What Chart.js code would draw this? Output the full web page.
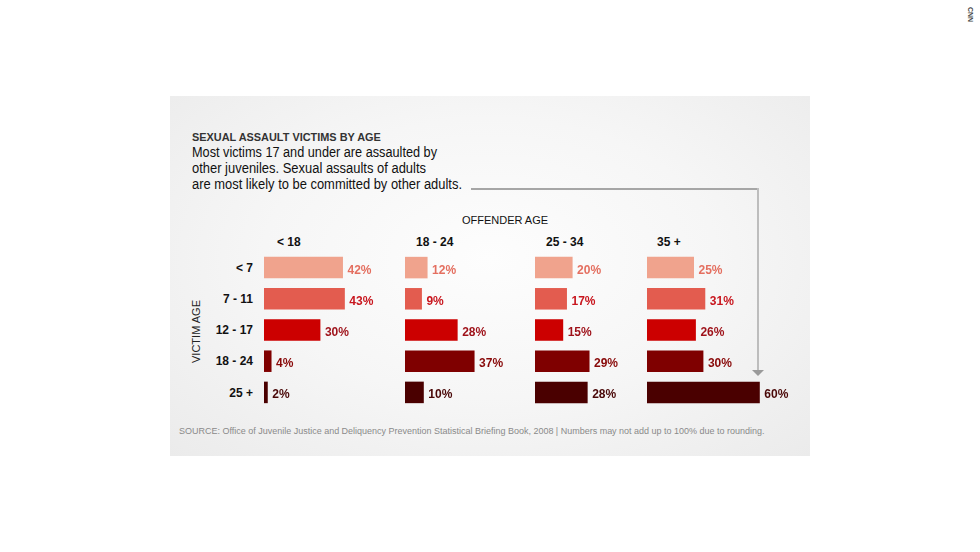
<!DOCTYPE html>
<html><head><meta charset="utf-8">
<script src="https://cdn.jsdelivr.net/npm/chart.js@4.4.1/dist/chart.umd.min.js"></script>
<style>
html,body{margin:0;padding:0;background:#fff;}
#stage{position:relative;width:980px;height:552px;overflow:hidden;background:#fff;font-family:"Liberation Sans",Arial,Helvetica,sans-serif;}
#panel{position:absolute;left:170px;top:96px;width:640px;height:360px;background:radial-gradient(ellipse at 50% 45%, #fdfdfd 0%, #f6f6f6 50%, #ebebeb 100%);}
.t{position:absolute;white-space:nowrap;line-height:1;transform-origin:0 0;}
.cv{position:absolute;}
</style></head>
<body><div id="stage"><div id="panel"></div>
<div style="position:absolute;left:471px;top:188px;width:288px;height:2px;background:#a6a6a6"></div>
<div style="position:absolute;left:757px;top:188px;width:2px;height:182px;background:#bdbdbd"></div>
<div style="position:absolute;left:752px;top:370px;width:0;height:0;border-left:6px solid transparent;border-right:6px solid transparent;border-top:6px solid #9a9a9a"></div>
</div>
<script>
// ---- data ----
const victimAges = ['< 7', '7 - 11', '12 - 17', '18 - 24', '25 +'];
const offenderAges = ['< 18', '18 - 24', '25 - 34', '35 +'];
const offenderUnder18 = [42, 43, 30, 4, 2];
const offender18to24 = [12, 9, 28, 37, 10];
const offender25to34 = [20, 17, 15, 29, 28];
const offender35plus = [25, 31, 26, 30, 60];
const seriesByOffender = [offenderUnder18, offender18to24, offender25to34, offender35plus];

// ---- styles / layout ----
const barColors = ['#f0a38d', '#e35c4f', '#cc0000', '#7f0000', '#4a0000'];
const labelColors = ['#e46f60', '#c8161e', '#9e1119', '#880808', '#4a0808'];
const FONT = '"Liberation Sans", Arial, Helvetica, sans-serif';
const colLeft = [264, 405, 535, 647];
const colWidth = [136, 125, 105, 150];
const headerLeft = [277, 416, 546, 657];
const pxPerPct = 1.88;
const chartTop = 252, chartHeight = 156;

const stage = document.getElementById('stage');

function addText(str, o) {
  const el = document.createElement('div');
  el.className = 't';
  el.textContent = str;
  let size = o.size;
  el.style.fontSize = size + 'px';
  el.style.fontWeight = o.bold ? 'bold' : 'normal';
  el.style.color = o.color;
  stage.appendChild(el);
  let nat = el.getBoundingClientRect().width;
  let sx = 1;
  if (o.width) {
    if (o.squeeze) {
      sx = o.width / nat;
      el.style.transform = 'scaleX(' + sx + ')';
    } else {
      size = size * o.width / nat;
      el.style.fontSize = size + 'px';
    }
    nat = o.width;
  }
  if (o.rotate) {
    el.style.left = (o.x - nat / 2) + 'px';
    el.style.top = (o.y - size / 2) + 'px';
    el.style.transformOrigin = '50% 50%';
    el.style.transform = 'rotate(' + o.rotate + 'deg)';
    return el;
  }
  let left = o.x;
  if (o.align === 'right') left = o.x - nat;
  else if (o.align === 'center') left = o.x - nat / 2;
  el.style.left = left + 'px';
  el.style.top = (o.y - 0.8465 * size) + 'px';
  return el;
}

const valueLabels = {
  id: 'valueLabels',
  afterDatasetsDraw(chart) {
    const ctx = chart.ctx;
    const meta = chart.getDatasetMeta(0);
    const vals = chart.data.datasets[0].data;
    ctx.save();
    ctx.font = 'bold 12px ' + FONT;
    ctx.textBaseline = 'alphabetic';
    ctx.textAlign = 'left';
    meta.data.forEach((bar, i) => {
      ctx.fillStyle = labelColors[i];
      ctx.fillText(vals[i] + '%', bar.x + 4.5, bar.y + 6);
    });
    ctx.restore();
  }
};

seriesByOffender.forEach((vals, c) => {
  const cv = document.createElement('canvas');
  cv.className = 'cv';
  cv.width = colWidth[c];
  cv.height = chartHeight;
  cv.style.left = colLeft[c] + 'px';
  cv.style.top = chartTop + 'px';
  stage.appendChild(cv);
  new Chart(cv, {
    type: 'bar',
    data: {
      labels: victimAges,
      datasets: [{
        label: offenderAges[c],
        data: vals,
        backgroundColor: barColors,
        borderWidth: 0,
        barPercentage: 0.69,
        categoryPercentage: 1
      }]
    },
    options: {
      indexAxis: 'y',
      responsive: false,
      animation: false,
      layout: { padding: 0 },
      plugins: { legend: { display: false }, tooltip: { enabled: false } },
      scales: {
        x: { display: false, min: 0, max: colWidth[c] / pxPerPct },
        y: { display: false }
      }
    },
    plugins: [valueLabels]
  });
});

// ---- texts ----
addText('SEXUAL ASSAULT VICTIMS BY AGE', { x: 192, y: 141.5, size: 11, bold: true, color: '#333', width: 189 });
addText('Most victims 17 and under are assaulted by', { x: 192, y: 156.5, size: 14, color: '#111', width: 245, squeeze: true });
addText('other juveniles. Sexual assaults of adults', { x: 192, y: 172.5, size: 14, color: '#111', width: 234, squeeze: true });
addText('are most likely to be committed by other adults.', { x: 192, y: 188.5, size: 14, color: '#111', width: 270, squeeze: true });
addText('OFFENDER AGE', { x: 505, y: 224, size: 11, color: '#111', align: 'center' });
offenderAges.forEach((lab, c) => addText(lab, { x: headerLeft[c], y: 246, size: 12, bold: true, color: '#111' }));
victimAges.forEach((lab, r) => {
  const cy = chartTop + chartHeight / victimAges.length * (r + 0.5);
  addText(lab, { x: 253, y: cy + 4.3, size: 12, bold: true, color: '#111', align: 'right' });
});
addText('VICTIM AGE', { x: 196.5, y: 331, size: 11, color: '#222', rotate: -90 });
addText('SOURCE: Office of Juvenile Justice and Deliquency Prevention Statistical Briefing Book, 2008 | Numbers may not add up to 100% due to rounding.', { x: 179, y: 435, size: 9, color: '#8a8a8a', width: 586 });
addText('CNN', { x: 971, y: 14, size: 7, bold: true, color: '#444', rotate: 90 });
</script>
</body></html>
